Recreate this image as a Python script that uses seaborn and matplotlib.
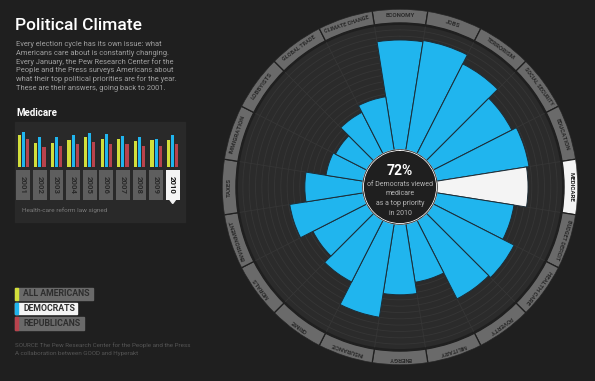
import numpy as np
import pandas as pd
import matplotlib
matplotlib.use("Agg")
import matplotlib.pyplot as plt
import seaborn as sns
from matplotlib.patches import Rectangle, Polygon

# ---------------- data ----------------
issues = ["ECONOMY", "JOBS", "TERRORISM", "SOCIAL SECURITY", "EDUCATION",
          "MEDICARE", "BUDGET DEFICIT", "HEALTH CARE", "POVERTY", "MILITARY",
          "ENERGY", "INSURANCE", "CRIME", "MORALS", "ENVIRONMENT", "TAXES",
          "IMMIGRATION", "LOBBYISTS", "GLOBAL TRADE", "CLIMATE CHANGE"]
dem_2010 = [87, 88, 80, 70, 74, 72, 62, 72, 70, 47,
            56, 75, 55, 48, 59, 46, 30, 28, 37, 43]
highlight = "MEDICARE"

years = ["2001", "2002", "2003", "2004", "2005",
         "2006", "2007", "2008", "2009", "2010"]
all_americans = [72, 55, 55, 62, 67, 63, 63, 59, 61, 62]
democrats = [80, 68, 68, 72, 77, 74, 70, 67, 64, 72]
republicans = [63, 45, 47, 53, 57, 53, 53, 47, 47, 53]
groups = ["ALL AMERICANS", "DEMOCRATS", "REPUBLICANS"]
selected_year = "2010"

title = "Political Climate"
intro = ["Every election cycle has its own issue: what",
         "Americans care about is constantly changing.",
         "Every January, the Pew Research Center for the",
         "People and the Press surveys Americans about",
         "what their top political priorities are for the year.",
         "These are their answers, going back to 2001."]
center_lines = ["of Democrats viewed", "medicare", "as a top priority", "in 2010"]
source = ["SOURCE The Pew Research Center for the People and the Press",
          "A collaboration between GOOD and Hyperakt"]

# ---------------- style ----------------
BG = "#1f1f1f"
DISK = "#2b2b2b"
GRID = "#363636"
RING = "#6a6a6a"
RINGTXT = "#2b2b2b"
BLUE = "#20b5ee"
YELLOW = "#d2df3b"
RED = "#b8434d"
WHITE = "#f4f4f4"

sns.set_theme(style="dark")
plt.rcParams["font.family"] = ["Roboto", "DejaVu Sans"]

W, H = 595, 381
fig = plt.figure(figsize=(W / 100, H / 100), dpi=100, facecolor=BG)


def fx(px):
    return px / W


def fy(py):
    return 1 - py / H


# ---------------- polar chart ----------------
cx, cy, R = 400, 187, 178
ax = fig.add_axes([fx(cx - R), fy(cy + R), 2 * R / W, 2 * R / H], projection="polar")
ax.set_facecolor(BG)
ax.set_theta_zero_location("N")
ax.set_theta_direction(-1)
rmax = 111.5
ax.set_ylim(0, rmax)
ax.set_rorigin(-29.26)
ax.set_xticks([])
ax.set_yticks([])
ax.grid(False)
ax.spines["polar"].set_visible(False)

n = len(issues)
step = 2 * np.pi / n
theta = np.arange(n) * step
full = np.linspace(0, 2 * np.pi, 400)

# disk
ax.bar(0, 98.9, width=2 * np.pi, bottom=0, color=DISK, linewidth=0, zorder=0)
for r in np.arange(5, 99, 5):
    ax.plot(full, np.full_like(full, r), color=GRID, lw=0.6, zorder=0.5)
for t in theta + step / 2:
    ax.plot([t, t], [0, 98.9], color=GRID, lw=0.6, zorder=0.5)

# wedges
colors = [WHITE if i == highlight else BLUE for i in issues]
ax.bar(theta, dem_2010, width=step, bottom=0, color=colors,
       edgecolor="#1c2c36", linewidth=0.7, zorder=2)

# inner dark circle
ax.fill(full, np.zeros_like(full), color=BG, zorder=3)

# outer label ring
ring_colors = [WHITE if i == highlight else RING for i in issues]
ax.bar(theta, rmax - 100.5, width=step, bottom=100.5, color=ring_colors,
       edgecolor=BG, linewidth=0.9, zorder=2)
for t, lab in zip(theta, issues):
    ax.text(t, 106, lab, rotation=-np.degrees(t), rotation_mode="anchor",
            ha="center", va="center", fontsize=4.4 if len(lab) < 12 else 4.0,
            fontweight="bold",
            color="#1f1f1f" if lab == highlight else RINGTXT, zorder=4)

# center text
fig.text(fx(cx), fy(171), "72%", ha="center", va="center", fontsize=10,
         fontweight="bold", color="white")
for k, line in enumerate(center_lines):
    fig.text(fx(cx), fy(184 + 9.7 * k), line, ha="center", va="center",
             fontsize=5, color="#b5b5b5")

# ---------------- left text ----------------
fig.text(fx(15), fy(25), title, ha="left", va="center", fontsize=12.5,
         fontweight="medium", color="white")
for k, line in enumerate(intro):
    fig.text(fx(16), fy(45 + 8.65 * k), line, ha="left", va="center",
             fontsize=5.4, color="#a0a0a0")
fig.text(fx(16), fy(113), "Medicare", ha="left", va="center", fontsize=7,
         fontweight="bold", color="white")

# panel behind mini chart
fig.patches.append(Rectangle((fx(15), fy(222)), 170 / W, 100 / H,
                             transform=fig.transFigure, color="#292929", zorder=-1))

# mini bar chart (seaborn)
df = pd.DataFrame({
    "year": years * 3,
    "group": [groups[0]] * 10 + [groups[1]] * 10 + [groups[2]] * 10,
    "value": all_americans + democrats + republicans,
})
axb = fig.add_axes([fx(15), fy(167), 166 / W, 45 / H])
sns.barplot(data=df, x="year", y="value", hue="group", order=years,
            hue_order=groups, palette=[YELLOW, BLUE, RED], width=0.74,
            gap=0.25, saturation=1, legend=False, linewidth=0, ax=axb)
axb.set_xlim(-0.5, 9.5)
axb.set_ylim(0, 102)
axb.set_facecolor("none")
axb.axis("off")

# year boxes
axy = fig.add_axes([fx(15), fy(200), 166 / W, 30 / H])
box_colors = [WHITE if y == selected_year else "#5e5e5e" for y in years]
axy.bar(range(len(years)), [1] * len(years), width=0.82, color=box_colors,
        linewidth=0)
for i, y in enumerate(years):
    axy.text(i, 0.5, y, rotation=-90, ha="center", va="center", fontsize=5.6,
             fontweight="bold",
             color="#111111" if y == selected_year else "#2a2a2a")
axy.set_xlim(-0.5, 9.5)
axy.set_ylim(0, 1)
axy.set_facecolor("none")
axy.axis("off")
sel = years.index(selected_year)
xc = 15 + 166 * (sel + 0.5) / 10
fig.patches.append(Polygon([(fx(xc - 3), fy(199.5)), (fx(xc + 3), fy(199.5)),
                            (fx(xc), fy(203.5))], closed=True,
                           transform=fig.transFigure, color=WHITE, zorder=5))
fig.text(fx(22), fy(210), "Health-care reform law signed", ha="left",
         va="center", fontsize=4.6, color="#7a7a7a")

# ---------------- legend ----------------
legend_boxes = [(288, 300, 93, "#6a6a6a", YELLOW),
                (303, 314, 77, WHITE, BLUE),
                (317, 330, 84, "#6a6a6a", RED)]
for (y0, y1, x1, bc, sc), lab in zip(legend_boxes, groups):
    fig.patches.append(Rectangle((fx(15), fy(y1)), (x1 - 15) / W, (y1 - y0) / H,
                                 transform=fig.transFigure, color=bc, zorder=1))
    fig.patches.append(Rectangle((fx(15), fy(y1)), 2.5 / W, (y1 - y0) / H,
                                 transform=fig.transFigure, color=sc, zorder=2))
    fig.text(fx(23), fy((y0 + y1) / 2), lab, ha="left", va="center",
             fontsize=6.3, fontweight="bold", color="#2e2e2e")

for k, line in enumerate(source):
    fig.text(fx(15), fy(345 + 8.5 * k), line, ha="left", va="center",
             fontsize=4.5, color="#555555")

fig.savefig("out.png", dpi=100, facecolor=BG)
